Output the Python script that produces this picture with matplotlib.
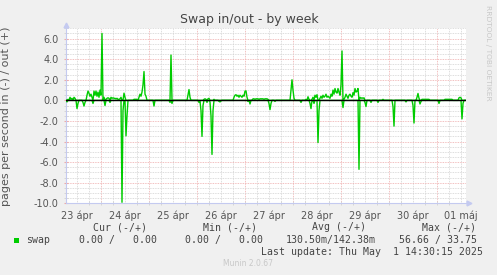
import numpy as np
import matplotlib
matplotlib.use("Agg")
import matplotlib.pyplot as plt
from matplotlib.patches import Rectangle

# ---- data (hours since 23 apr 00:00, 30-minute samples) ----
out_hours = [7.5, 8.5, 9.0, 9.5, 10.5, 11.0,
             17.0, 17.5, 18.0, 18.5, 19.0, 19.5, 20.5, 21.0, 21.5, 22.0, 22.5, 23.0, 23.5, 24.0, 24.5, 25.5,
             26.5, 27.0, 27.5, 28.0, 29.0, 29.5, 30.0, 30.5, 31.0, 31.5, 32.0, 32.5, 33.0, 33.5, 34.0, 35.5, 36.0,
             40.5, 41.0, 41.5, 42.0, 43.0, 43.5, 44.0, 44.5, 45.0, 45.5, 46.0, 46.5,
             59.0, 67.5, 68.0, 68.5,
             75.5, 76.0, 76.5, 77.5, 78.0, 80.5,
             90.5, 91.0, 91.5, 92.0, 92.5, 93.0, 93.5, 94.0, 94.5, 95.0, 95.5, 96.0, 96.5, 97.0,
             100.0, 100.5, 101.0, 101.5, 102.0, 102.5, 103.0, 103.5, 104.0, 104.5, 105.0, 105.5, 106.0, 106.5, 107.0, 107.5,
             119.0, 119.5, 120.0, 120.5,
             126.5, 127.5, 128.0, 129.5, 130.0, 131.0, 131.5, 132.0,
             133.5, 134.0, 134.5, 135.0, 135.5, 136.0, 136.5, 137.0, 137.5, 138.0, 138.5, 139.0, 139.5, 140.0, 140.5,
             141.0, 141.5, 142.0, 142.5, 143.0, 143.5, 144.0, 144.5, 145.5,
             146.0, 146.5, 147.0, 147.5, 148.0, 148.5, 149.0, 149.5, 150.0, 150.5, 151.0, 151.5, 152.0, 152.5,
             153.5, 154.0, 154.5, 155.0, 155.5,
             165.0, 182.0, 182.5, 183.0,
             184.5, 185.0, 185.5, 186.0, 186.5, 187.0, 187.5, 188.0,
             196.0, 196.5, 197.0, 197.5, 198.0, 198.5, 199.0, 199.5,
             203.0, 203.5, 204.0]
out_values = [0.1, 0.3, 0.1, 0.2, 0.3, 0.2,
              0.5, 0.9, 0.7, 0.4, 0.6, 0.3, 0.9, 0.5, 0.9, 0.4, 0.8, 0.3, 1.0, 0.5, 6.5, 0.3,
              0.1, 0.2, 0.25, 0.2, 0.3, 0.2, 0.25, 0.2, 0.2, 0.15, 0.2, 0.1, 0.1, 0.15, 0.3, 0.7, 0.3,
              0.1, 0.1, 0.1, 0.1, 0.3, 0.6, 0.4, 0.8, 1.5, 2.8, 0.6, 0.4,
              4.4, 0.5, 1.05, 0.3,
              0.1, 0.15, 0.1, 0.15, 0.2, 0.1,
              0.3, 0.5, 0.55, 0.4, 0.5, 0.3, 0.5, 0.4, 0.3, 0.5, 0.4, 0.9, 0.92, 0.3,
              0.15, 0.15, 0.1, 0.15, 0.15, 0.15, 0.1, 0.15, 0.15, 0.15, 0.15, 0.1, 0.15, 0.15, 0.15, 0.1,
              1.0, 2.0, 1.0, 0.2,
              0.1, 0.35, 0.1, 0.1, 0.3, 0.5, 0.3, 0.55,
              0.2, 0.4, 0.2, 0.5, 0.3, 0.4, 0.6, 0.3, 0.4, 0.3, 0.2, 0.6, 0.4, 1.0, 0.6,
              1.15, 0.8, 0.7, 1.15, 0.8, 0.5, 1.5, 4.8, 0.1,
              0.3, 0.6, 0.4, 0.2, 0.5, 0.6, 0.4, 0.3, 0.75, 0.5, 1.15, 0.8, 0.9, 1.15,
              0.3, 0.2, 0.25, 0.2, 0.25,
              0.1, 0.3, 0.67, 0.2,
              0.1, 0.1, 0.1, 0.1, 0.1, 0.1, 0.1, 0.1,
              0.1, 0.1, 0.1, 0.1, 0.1, 0.1, 0.1, 0.1,
              0.25, 0.3, 0.25]

in_hours = [7.0, 12.0, 12.5, 15.0, 15.5, 16.0, 20.0, 26.0, 28.5,
            34.5, 35.0, 36.5, 37.0,
            50.5, 58.5, 59.5,
            73.0, 73.5, 74.0, 74.5, 75.0, 77.0, 78.5, 79.0, 79.5, 80.0,
            83.0, 83.5, 84.0,
            97.5, 98.5, 108.0, 108.5, 109.0, 111.0,
            124.0, 128.5, 129.0, 130.5, 132.5, 133.0,
            145.0, 153.0, 156.0, 156.5, 159.0, 162.5, 170.0, 170.5, 176.5, 180.0, 180.5,
            183.5, 184.0, 193.0, 204.5, 205.0]
in_values = [0.15, 0.8, 0.3, 0.2, 0.55, 0.2, 0.3, 0.5, 0.2,
             9.9, 1.0, 3.45, 1.5,
             0.55, 0.2, 0.3,
             0.2, 0.1, 1.0, 3.5, 0.5, 0.2, 0.15, 1.5, 5.25, 1.0,
             0.1, 0.15, 0.05,
             0.1, 0.35, 0.3, 0.9, 0.3, 0.1,
             0.2, 0.3, 0.8, 0.3, 4.1, 1.0,
             0.7, 6.7, 0.2, 0.6, 0.2, 0.2, 0.6, 2.5, 0.15, 0.5, 2.2,
             0.35, 0.1, 0.3, 1.8, 0.3]

day_labels = ["23 ápr", "24 ápr", "25 ápr", "26 ápr", "27 ápr",
              "28 ápr", "29 ápr", "30 ápr", "01 máj"]
y_ticks = [-10, -8, -6, -4, -2, 0, 2, 4, 6]

legend_cols = ["Cur (-/+)", "Min (-/+)", "Avg (-/+)", "Max (-/+)"]
legend_vals = ["0.00 /   0.00", "0.00 /   0.00", "130.50m/142.38m", "56.66 / 33.75"]

t_start, t_end = 6.5, 206.5

# ---- build sample grid ----
t = np.arange(t_start, t_end + 0.25, 0.5)
out_s = np.zeros_like(t)
in_s = np.zeros_like(t)
for h, v in zip(out_hours, out_values):
    out_s[int(round((h - t_start) * 2))] = v
for h, v in zip(in_hours, in_values):
    in_s[int(round((h - t_start) * 2))] = -v

W, H = 497, 275
fig = plt.figure(figsize=(W / 100, H / 100), dpi=100, facecolor="#f0f0f0")
ax = fig.add_axes([66 / W, 1 - 203.3 / H, 400 / W, 175 / H])
ax.set_facecolor("white")
ax.set_xlim(t_start, t_end)
ax.set_ylim(-10, 7)

gray = "#d2d2d2"
red = "#eeaaaa"
# grid
for h in np.arange(12, t_end, 6):
    ax.axvline(h, color=red if h % 24 == 0 else gray, lw=0.6,
               ls=(0, (1, 1)), zorder=0.5)
for v in np.arange(-9.5, 7.01, 0.5):
    if v == 0:
        continue
    ax.axhline(v, color=red if v % 2 == 0 else gray, lw=0.6,
               ls=(0, (1, 1)), zorder=0.5, clip_on=False)

ax.plot(t, out_s, color="#00cc00", lw=1.0, zorder=3)
ax.plot(t, in_s, color="#00cc00", lw=1.0, zorder=3)
ax.axhline(0, color="black", lw=1.0, zorder=4)

# axes styling
for s in ["top", "right"]:
    ax.spines[s].set_visible(False)
axc = "#c4caf0"
for s in ["left", "bottom"]:
    ax.spines[s].set_color(axc)
    ax.spines[s].set_linewidth(0.8)
ax.plot([t_start], [7.35], marker="^", ms=3.5, color=axc, clip_on=False, zorder=5)
ax.plot([t_end + 1.6], [-10], marker=">", ms=3.5, color=axc, clip_on=False, zorder=5)

noons = [12 + 24 * i for i in range(len(day_labels))]
ax.set_xticks(noons)
ax.set_xticklabels(day_labels)
ax.set_xticks(np.arange(12, t_end, 6), minor=True)
ax.set_yticks(y_ticks)
ax.set_yticklabels([f"{v:.1f}" for v in y_ticks])
ax.set_yticks(np.arange(-9.5, 7.01, 0.5), minor=True)
ax.tick_params(axis="x", which="major", length=0, pad=5, labelsize=7, labelcolor="#555555")
ax.tick_params(axis="y", which="major", length=3, direction="inout", color=red, pad=4,
               labelsize=7, labelcolor="#555555")
ax.tick_params(which="minor", length=3, direction="inout", color=gray, width=0.6)

ax.set_ylabel("pages per second in (-) / out (+)", fontsize=8, color="#555555")
ax.yaxis.set_label_coords(-0.1375, 0.5)

def fx(x):
    return x / W

def fy(y):
    return 1 - y / H

fig.text(fx(249), fy(19), "Swap in/out - by week", ha="center", va="center",
         fontsize=9, color="#444444")
fig.text(fx(488), fy(53), "RRDTOOL / TOBI OETIKER", ha="center", va="center",
         rotation=270, fontsize=5.4, color="#c8c8c8")

mono = dict(family="DejaVu Sans Mono", fontsize=7.1, color="#444444", va="center")
col_right = [146.7, 256.7, 366, 476]
val_right = [156.7, 263, 376, 476.7]
for lab, xr in zip(legend_cols, col_right):
    fig.text(fx(xr), fy(227.5), lab, ha="right", **mono)
for lab, xr in zip(legend_vals, val_right):
    fig.text(fx(xr), fy(240), lab, ha="right", **mono)
fig.text(fx(26.5), fy(240), "swap", ha="left", **mono)
fig.patches.append(Rectangle((fx(14), fy(242.5)), 5 / W, 5 / H, transform=fig.transFigure,
                             facecolor="#00cc00", edgecolor="none"))
fig.text(fx(482.7), fy(251.7), "Last update: Thu May  1 14:30:15 2025", ha="right", **mono)
fig.text(fx(248), fy(264), "Munin 2.0.67", ha="center", va="center", fontsize=5.5, color="#c8c8c8")

fig.savefig("out.png", dpi=100, facecolor=fig.get_facecolor())
